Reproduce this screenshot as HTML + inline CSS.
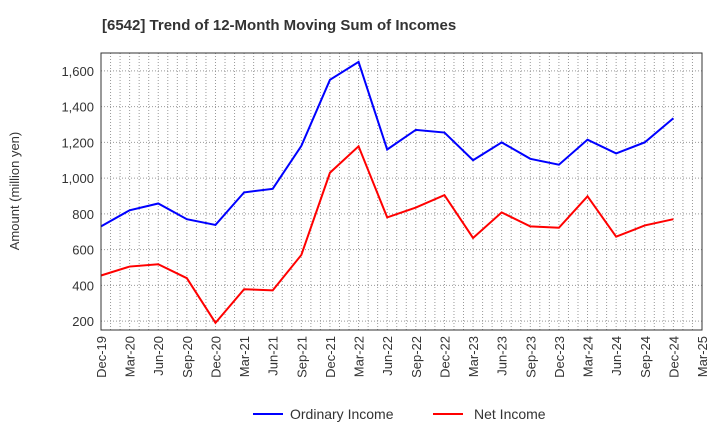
<!DOCTYPE html>
<html><head><meta charset="utf-8"><style>body{margin:0;background:#fff}svg{display:block;font-family:"Liberation Sans",sans-serif}</style></head>
<body>
<svg id="c" width="720" height="440">
<text x="102" y="30" font-size="15" font-weight="bold" fill="#333">[6542]  Trend of 12-Month Moving Sum of Incomes</text>
<text transform="translate(19,191) rotate(-90)" text-anchor="middle" font-size="13" fill="#333">Amount (million yen)</text>
<g id="grid"></g><g id="series"></g><g id="axes"></g>
<g>
<line x1="253" y1="414" x2="283" y2="414" stroke="#0000ff" stroke-width="2"/>
<text x="290" y="419" font-size="14" fill="#333">Ordinary Income</text>
<line x1="433" y1="414" x2="463" y2="414" stroke="#ff0000" stroke-width="2"/>
<text x="474" y="419" font-size="14" fill="#333">Net Income</text>
</g>
</svg>
<script>
const categories=["Dec-19","Mar-20","Jun-20","Sep-20","Dec-20","Mar-21","Jun-21","Sep-21","Dec-21","Mar-22","Jun-22","Sep-22","Dec-22","Mar-23","Jun-23","Sep-23","Dec-23","Mar-24","Jun-24","Sep-24","Dec-24","Mar-25"];
const ordinaryIncome=[730,820,858,770,738,920,940,1180,1550,1650,1160,1270,1255,1100,1200,1108,1075,1215,1138,1200,1335];
const netIncome=[455,505,518,440,190,378,372,570,1030,1178,780,835,905,665,808,730,722,898,672,735,770];
const yTicks=[200,400,600,800,1000,1200,1400,1600];
const NS="http://www.w3.org/2000/svg";
const L=101,R=702,T=53,B=330,yMin=150,yMax=1700;
const xs=i=>L+i*(R-L)/(categories.length-1);
const ys=v=>B-(v-yMin)/(yMax-yMin)*(B-T);
function mk(tag,attrs,parent){const e=document.createElementNS(NS,tag);for(const k in attrs)e.setAttribute(k,attrs[k]);parent.appendChild(e);return e;}
const grid=document.getElementById('grid'),axes=document.getElementById('axes'),ser=document.getElementById('series');
for(let m=1;m<(categories.length-1)*3;m++){const x=L+m*(R-L)/((categories.length-1)*3);
 const g=mk('line',{x1:x,y1:T,x2:x,y2:B,stroke:'#999','stroke-dasharray':'1,2'},grid);
 
 }
yTicks.forEach(v=>{const y=ys(v);
 const g=mk('line',{x1:L,y1:y,x2:R,y2:y,stroke:'#999','stroke-dasharray':'1,2'},grid);
 
 
 const t=mk('text',{x:L-7,y:y+5,'text-anchor':'end','font-size':'13',fill:'#333'},axes);
 
 
 t.textContent=v.toLocaleString('en-US');});
const fr=mk('rect',{x:L,y:T,width:R-L,height:B-T,fill:'none',stroke:'#333'},axes);


categories.forEach((c,i)=>{const x=xs(i);
 const t=mk('text',{transform:`translate(${x+5},${B+6}) rotate(-90)`,'text-anchor':'end','font-size':'13',fill:'#333'},axes);
 
 
 t.textContent=c;});
function line(data,color,name){
 const p=mk('polyline',{points:data.map((v,i)=>xs(i)+','+ys(v)).join(' '),fill:'none',stroke:color,'stroke-width':2},ser);
 
 }
line(ordinaryIncome,'#0000ff','ordinary-income-line');
line(netIncome,'#ff0000','net-income-line');
</script>
</body></html>
